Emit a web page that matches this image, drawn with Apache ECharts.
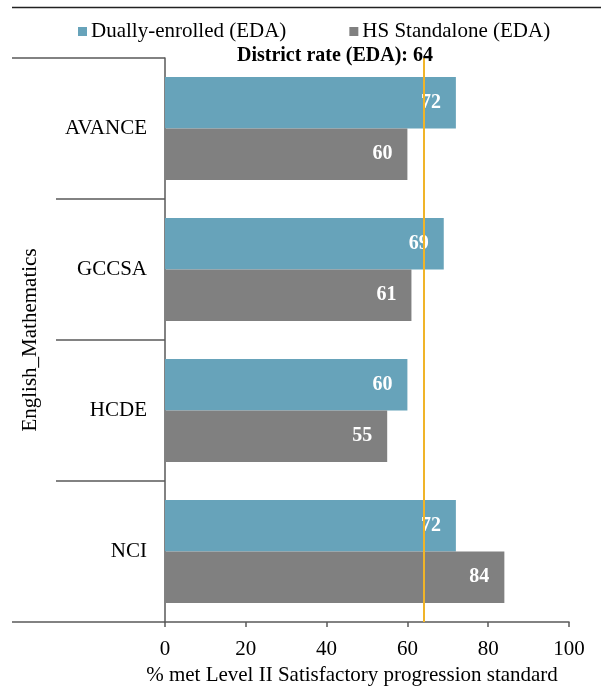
<!DOCTYPE html>
<html>
<head>
<meta charset="utf-8">
<script src="https://cdn.jsdelivr.net/npm/echarts@6/dist/echarts.min.js"></script>
<style>
  html, body { margin: 0; padding: 0; background: #fff; }
  #chart { width: 601px; height: 686px; }
</style>
</head>
<body>
<div id="chart"></div>
<script>
// Campus categories (top to bottom) and the subject group they belong to
const campuses = ['AVANCE', 'GCCSA', 'HCDE', 'NCI'];
const subjectGroup = ['English_Mathematics'];

// Percent meeting the Level II Satisfactory progression standard
const duallyEnrolled = [72, 69, 60, 72];
const hsStandalone = [60, 61, 55, 84];

// District-wide reference rate
const districtRate = 64;

const seriesNames = ['Dually-enrolled (EDA)', 'HS Standalone (EDA)'];
const xTicks = { min: 0, max: 100, interval: 20 };
const xAxisTitle = '% met Level II Satisfactory progression standard';

const FONT = '"Liberation Serif", "Times New Roman", serif';
const FS = 21;
const AXIS_COLOR = '#595959';

const chart = echarts.init(document.getElementById('chart'));

const barLabel = {
  show: true,
  position: 'insideRight',
  distance: 15,
  color: '#fff',
  fontFamily: FONT,
  fontWeight: 'bold',
  fontSize: 20
};

chart.setOption({
  animation: false,
  backgroundColor: '#fff',
  textStyle: { fontFamily: FONT },
  title: {
    text: 'District rate (EDA): ' + districtRate,
    left: 335,
    textAlign: 'center',
    top: 46,
    padding: 0,
    textStyle: { fontFamily: FONT, fontWeight: 'bold', fontSize: 20, color: '#000' }
  },
  legend: {
    data: seriesNames,
    top: 21,
    left: 78,
    padding: 0,
    itemWidth: 9,
    itemHeight: 9,
    itemGap: 63,
    icon: 'rect',
    textStyle: { fontFamily: FONT, fontSize: FS, color: '#000', padding: [0, 0, 0, -1] }
  },
  grid: { left: 165, right: 32, top: 58, bottom: 64, containLabel: false, outerBoundsMode: 'none' },
  xAxis: {
    type: 'value',
    min: xTicks.min,
    max: xTicks.max,
    interval: xTicks.interval,
    splitLine: { show: false },
    axisLine: { show: true, lineStyle: { color: AXIS_COLOR, width: 1.5 } },
    axisTick: { show: true, length: 5, lineStyle: { color: AXIS_COLOR, width: 1.5 } },
    axisLabel: { color: '#000', fontFamily: FONT, fontSize: FS, margin: 17 },
    name: xAxisTitle,
    nameLocation: 'middle',
    nameGap: 41,
    nameTextStyle: { color: '#000', fontFamily: FONT, fontSize: FS, padding: [0, 30, 0, 0] }
  },
  yAxis: [
    {
      type: 'category',
      data: campuses,
      inverse: true,
      axisLine: { show: true, lineStyle: { color: AXIS_COLOR, width: 1.5 } },
      axisTick: { show: true, length: 109, interval: 0, lineStyle: { color: AXIS_COLOR, width: 1.5 } },
      axisLabel: { color: '#000', fontFamily: FONT, fontSize: FS, margin: 18 }
    },
    {
      type: 'category',
      data: subjectGroup,
      position: 'left',
      offset: 109,
      axisLine: { show: false },
      axisTick: { show: true, length: 44, interval: 0, lineStyle: { color: AXIS_COLOR, width: 1.5 } },
      axisLabel: { color: '#000', fontFamily: FONT, fontSize: FS, rotate: 90, margin: 15 }
    }
  ],
  series: [
    {
      name: seriesNames[0],
      type: 'bar',
      data: duallyEnrolled,
      barGap: '0%',
      barCategoryGap: '27%',
      itemStyle: { color: '#67A3BA' },
      label: barLabel,
      markLine: {
        silent: true,
        symbol: 'none',
        label: { show: false },
        lineStyle: { color: '#F0B429', width: 2, type: 'solid' },
        data: [{ xAxis: districtRate }]
      },
      z: 2
    },
    {
      name: seriesNames[1],
      type: 'bar',
      data: hsStandalone,
      barGap: '0%',
      barCategoryGap: '27%',
      itemStyle: { color: '#808080' },
      label: barLabel,
      z: 2
    }
  ],
  graphic: [
    {
      type: 'line',
      shape: { x1: 12, y1: 7.5, x2: 601, y2: 7.5 },
      style: { stroke: '#222', lineWidth: 1.5 }
    }
  ]
});
</script>
</body>
</html>
